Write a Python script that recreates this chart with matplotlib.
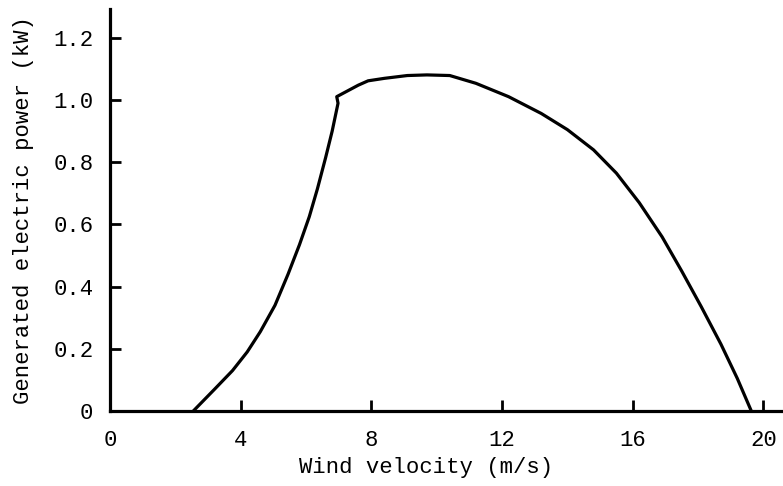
import matplotlib
matplotlib.use("Agg")
import matplotlib.pyplot as plt

# wind velocity (m/s) vs generated power (kW)
wind_speed = [2.55, 3.2, 3.75, 4.2, 4.6, 5.05, 5.45, 5.8, 6.1, 6.35,
              6.6, 6.8, 6.98, 6.94, 7.6, 7.9, 8.4, 9.1, 9.7, 10.4,
              11.2, 12.2, 13.2, 14.0, 14.8, 15.5, 16.2, 16.9, 17.5,
              18.1, 18.7, 19.2, 19.63]
power_kw = [0.0, 0.07, 0.13, 0.19, 0.255, 0.34, 0.44, 0.535, 0.625, 0.715,
            0.815, 0.9, 0.99, 1.011, 1.048, 1.062, 1.07, 1.079, 1.081, 1.079,
            1.054, 1.011, 0.957, 0.905, 0.84, 0.765, 0.67, 0.56, 0.45,
            0.335, 0.215, 0.105, 0.0]

x_ticks = [0, 4, 8, 12, 16, 20]
y_ticks = [0, 0.2, 0.4, 0.6, 0.8, 1.0, 1.2]
y_tick_labels = ["0", "0.2", "0.4", "0.6", "0.8", "1.0", "1.2"]

W, H = 783, 486
fig = plt.figure(figsize=(W / 100, H / 100), dpi=100)
ax = fig.add_axes([110 / W, (H - 411) / H, (W - 110) / W, (411 - 9) / H])

ax.plot(wind_speed, power_kw, color="black", linewidth=2.3,
        solid_joinstyle="round", solid_capstyle="round")

ax.set_xlim(0, 20.6)
ax.set_ylim(0, 1.293)

font = "Liberation Mono"
ax.set_xticks(x_ticks)
ax.set_xticklabels([str(t) for t in x_ticks], fontfamily=font, fontsize=16)
ax.set_yticks(y_ticks)
ax.set_yticklabels(y_tick_labels, fontfamily=font, fontsize=16)
ax.tick_params(direction="in", length=8, width=2, pad=12)
ax.tick_params(axis="x", pad=14)

ax.set_xlabel("Wind velocity (m/s)", fontfamily=font, fontsize=16)
ax.set_ylabel("Generated electric power (kW)", fontfamily=font, fontsize=16)
ax.xaxis.set_label_coords(0.47, -0.115)
ax.yaxis.set_label_coords(-0.113, 0.5)

for side in ["top", "right"]:
    ax.spines[side].set_visible(False)
for side in ["left", "bottom"]:
    ax.spines[side].set_linewidth(2.3)

fig.savefig("out.png", dpi=100)
